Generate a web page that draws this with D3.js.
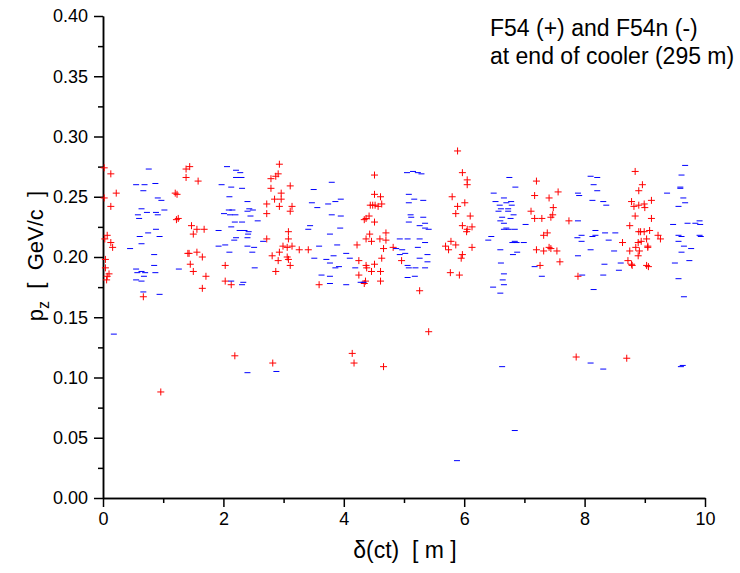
<!DOCTYPE html>
<html lang="en">
<head>
  <meta charset="UTF-8">
  <title>F54 p_z vs delta(ct)</title>
  <style>
    body {
      margin: 0;
      padding: 0;
      background: #fff;
    }
    svg {
      display: block;
      font-family: Arial, "Liberation Sans", Helvetica, sans-serif;
    }
    .axis path, .axis line {
      stroke: #000;
      stroke-width: 1.5px;
    }
    .axis text {
      font-size: 18px;
      fill: #000;
    }
    .plus {
      stroke: #ff0000;
      stroke-width: 1;
    }
    .minus {
      stroke: #0000ff;
      stroke-width: 1;
    }
  </style>
</head>
<body>
  <div id="chart"></div>
  <script src="https://d3js.org/d3.v7.min.js"></script>
  <script>
    // F54 (+) points: [delta(ct) m, pz GeV/c]
    const plusPoints = [
      [0.02,0.274],[0.13,0.269],[1.38,0.273],[1.44,0.275],[1.38,0.266],[1.58,0.263],[0.22,0.253],[0.02,0.249],
      [1.20,0.253],[1.23,0.252],[0.13,0.242],[1.25,0.232],[1.22,0.231],[1.47,0.226],[1.56,0.223],[1.68,0.223],
      [1.50,0.219],[0.07,0.218],[0.03,0.215],[0.13,0.212],[0.16,0.208],[1.41,0.203],[1.43,0.203],[1.56,0.204],
      [1.65,0.200],[0.04,0.198],[1.45,0.194],[0.04,0.191],[1.50,0.188],[1.71,0.184],[0.10,0.186],[0.07,0.184],
      [0.06,0.181],[1.65,0.174],[0.67,0.167],
      [2.93,0.277],[2.91,0.269],[2.87,0.267],[2.79,0.265],[3.11,0.259],[2.79,0.257],[2.96,0.253],[2.85,0.248],
      [2.96,0.248],[2.72,0.244],[2.93,0.242],[3.14,0.242],[3.11,0.238],[2.72,0.236],[3.08,0.221],[3.08,0.215],
      [2.72,0.215],[2.99,0.209],[3.06,0.208],[3.14,0.209],[3.26,0.206],[3.41,0.206],[2.93,0.204],[2.81,0.201],
      [3.06,0.200],[3.08,0.198],[2.91,0.197],[3.11,0.193],[2.87,0.188],[2.03,0.193],[2.03,0.180],[2.13,0.177],
      [3.59,0.177],
      [5.89,0.288],[5.97,0.270],[4.51,0.268],[4.51,0.252],[4.61,0.250],[5.80,0.250],[4.44,0.243],[4.48,0.243],
      [4.52,0.243],[4.57,0.242],[4.63,0.244],[5.89,0.242],[5.86,0.236],[4.42,0.234],[4.37,0.232],[4.34,0.231],
      [4.51,0.229],[5.97,0.226],[4.70,0.220],[4.43,0.219],[4.37,0.215],[4.46,0.213],[4.60,0.215],[4.70,0.214],
      [4.22,0.210],[4.66,0.207],[4.82,0.208],[5.78,0.213],[5.86,0.210],[5.69,0.209],[5.74,0.206],[5.97,0.202],
      [5.95,0.199],[4.63,0.199],[4.96,0.197],[4.25,0.197],[4.37,0.193],[4.51,0.194],[4.38,0.191],[4.46,0.188],
      [4.61,0.188],[4.25,0.185],[4.36,0.180],[4.34,0.178],[4.61,0.180],[5.26,0.172],[5.77,0.187],[5.92,0.185],
      [6.05,0.264],[6.05,0.260],[6.01,0.245],[6.10,0.234],[6.05,0.223],[6.13,0.225],[6.04,0.221],[6.13,0.208],
      [7.20,0.263],[7.17,0.251],[7.56,0.254],[7.41,0.249],[7.48,0.241],[7.47,0.235],[7.44,0.233],[7.11,0.238],
      [7.17,0.232],[7.29,0.232],[7.74,0.230],[7.38,0.220],[7.32,0.218],[7.20,0.206],[7.32,0.205],[7.41,0.208],
      [7.44,0.207],[7.54,0.205],[7.59,0.196],[7.26,0.193],[7.89,0.184],
      [8.84,0.271],[8.96,0.260],[8.90,0.255],[8.78,0.246],[8.82,0.242],[8.90,0.243],[8.99,0.244],[9.00,0.241],
      [9.11,0.247],[8.84,0.234],[9.11,0.232],[8.75,0.226],[8.90,0.221],[8.93,0.221],[8.99,0.221],[9.08,0.222],
      [9.22,0.218],[9.26,0.215],[9.03,0.215],[8.63,0.212],[8.89,0.212],[8.94,0.213],[9.05,0.209],[9.05,0.208],
      [8.85,0.208],[8.75,0.205],[8.91,0.205],[8.89,0.201],[8.72,0.197],[8.78,0.194],[8.79,0.193],[9.03,0.193],
      [9.06,0.192],
      [0.96,0.088],[2.19,0.118],[2.82,0.112],[4.14,0.120],[4.17,0.112],[4.66,0.109],[5.41,0.138],[7.86,0.117],
      [8.70,0.116]
    ];

    // F54n (-) points
    const minusPoints = [
      [0.76,0.273],[0.55,0.260],[0.69,0.260],[0.87,0.261],[0.67,0.255],[0.91,0.249],[0.97,0.247],[1.02,0.239],
      [0.64,0.240],[0.73,0.237],[0.88,0.237],[0.58,0.235],[0.91,0.235],[0.60,0.232],[0.88,0.223],[0.75,0.220],
      [0.61,0.217],[0.94,0.217],[0.64,0.211],[0.45,0.207],[0.85,0.202],[0.85,0.193],[1.26,0.190],[0.55,0.190],
      [0.57,0.187],[0.64,0.188],[0.70,0.187],[0.87,0.187],[0.68,0.184],[0.55,0.181],[0.64,0.180],[0.67,0.171],
      [0.94,0.169],[1.97,0.260],[1.92,0.222],[1.92,0.209],
      [2.06,0.275],[2.21,0.272],[2.28,0.270],[2.30,0.266],[2.21,0.266],[2.13,0.258],[2.31,0.257],[2.10,0.250],
      [2.40,0.246],[2.09,0.239],[2.15,0.239],[2.43,0.240],[2.49,0.239],[2.40,0.238],[2.01,0.236],[2.11,0.235],
      [2.20,0.235],[2.45,0.234],[2.57,0.230],[2.19,0.229],[2.31,0.229],[2.13,0.225],[2.27,0.222],[2.35,0.222],
      [2.42,0.221],[2.41,0.219],[2.21,0.216],[2.18,0.214],[2.40,0.216],[2.66,0.213],[2.03,0.210],[2.40,0.209],
      [2.51,0.208],[2.10,0.204],[2.48,0.204],[2.52,0.191],[2.13,0.180],[2.33,0.179],[2.31,0.177],
      [3.80,0.262],[3.50,0.256],[3.47,0.245],[3.56,0.241],[3.74,0.244],[3.86,0.246],[3.95,0.248],[3.80,0.235],
      [3.95,0.234],[3.44,0.226],[3.41,0.223],[3.94,0.224],[3.77,0.219],[3.59,0.209],[3.89,0.210],[3.51,0.199],
      [3.71,0.198],[3.83,0.201],[3.77,0.195],[3.86,0.191],[3.92,0.192],[3.63,0.185],[3.77,0.184],[3.77,0.178],
      [5.05,0.270],[5.15,0.271],[5.23,0.270],[5.29,0.269],[5.08,0.252],[5.17,0.248],[5.32,0.247],[5.08,0.245],
      [5.11,0.235],[5.12,0.233],[5.32,0.233],[5.08,0.229],[5.35,0.228],[5.26,0.226],[5.35,0.224],[5.41,0.223],
      [4.93,0.215],[5.06,0.215],[5.26,0.215],[5.35,0.212],[5.23,0.208],[4.87,0.207],[4.97,0.206],[4.93,0.202],
      [5.02,0.203],[4.04,0.203],[5.39,0.202],[4.10,0.199],[5.26,0.199],[5.39,0.196],[5.06,0.193],[5.08,0.191],
      [5.19,0.191],[5.35,0.191],[4.19,0.191],[5.06,0.183],[5.18,0.184],[4.04,0.177],[4.28,0.179],[4.33,0.179],
      [6.75,0.266],[6.85,0.258],[6.49,0.253],[6.66,0.249],[6.52,0.246],[6.59,0.243],[6.70,0.245],[6.78,0.246],
      [6.79,0.243],[6.61,0.240],[6.73,0.240],[6.57,0.238],[6.73,0.238],[6.82,0.235],[6.63,0.233],[6.77,0.232],
      [6.60,0.230],[6.66,0.228],[6.70,0.224],[6.66,0.223],[6.74,0.223],[6.84,0.223],[7.02,0.227],[6.45,0.217],
      [6.40,0.214],[6.84,0.213],[6.87,0.212],[6.80,0.212],[6.99,0.212],[6.60,0.206],[6.88,0.204],[6.81,0.202],
      [6.61,0.195],[7.17,0.192],[6.66,0.186],[7.29,0.184],[6.64,0.181],[6.66,0.177],[6.48,0.175],[6.60,0.170],
      [7.89,0.253],[7.91,0.251],[7.89,0.230],[7.95,0.218],[7.88,0.216],[7.95,0.213],[7.89,0.201],[7.96,0.185],
      [8.10,0.267],[8.21,0.266],[8.15,0.260],[8.21,0.255],[8.13,0.247],[8.31,0.246],[8.36,0.243],[8.18,0.222],
      [8.34,0.220],[8.51,0.220],[8.18,0.218],[8.13,0.217],[8.40,0.214],[8.10,0.206],[8.49,0.205],[8.33,0.194],
      [8.60,0.195],[8.57,0.189],[8.31,0.185],[8.15,0.173],
      [9.67,0.276],[9.61,0.268],[9.59,0.258],[9.59,0.257],[9.37,0.253],[9.64,0.249],[9.67,0.245],[9.56,0.242],
      [9.47,0.227],[9.71,0.228],[9.84,0.228],[9.91,0.230],[9.92,0.227],[9.56,0.218],[9.61,0.217],[9.91,0.218],
      [9.93,0.217],[9.56,0.213],[9.65,0.209],[9.77,0.207],[9.61,0.204],[9.74,0.197],[9.50,0.195],[9.56,0.182],
      [9.65,0.167],
      [0.18,0.136],[2.40,0.104],[2.88,0.105],[5.88,0.031],[6.63,0.109],[6.84,0.056],[8.10,0.112],[8.31,0.107],
      [9.60,0.109],[9.63,0.110]
    ];

    const xTicks = [0, 2, 4, 6, 8, 10];
    const xMinorTicks = [1, 3, 5, 7, 9];
    const yTicks = [0, 0.05, 0.10, 0.15, 0.20, 0.25, 0.30, 0.35, 0.40];
    const yMinorTicks = [0.025, 0.075, 0.125, 0.175, 0.225, 0.275, 0.325, 0.375];
    const noteLines = ["F54 (+) and F54n (-)", "at end of cooler (295 m)"];

    const width = 740;
    const height = 573;
    const margin = { top: 16, right: 35, bottom: 75, left: 103 };

    const svg = d3.select("#chart")
      .append("svg")
      .attr("width", width)
      .attr("height", height);

    svg.append("rect")
      .attr("width", width)
      .attr("height", height)
      .attr("fill", "#fff");

    const x = d3.scaleLinear().domain([0, 10]).range([margin.left, width - margin.right]);
    const y = d3.scaleLinear().domain([0, 0.4]).range([height - margin.bottom, margin.top]);

    // Axes (major with labels, minor without)
    svg.append("g")
      .attr("class", "axis")
      .attr("transform", `translate(0,${y(0)})`)
      .call(d3.axisBottom(x).tickValues(xMinorTicks).tickSize(5).tickSizeOuter(0).tickFormat(""));

    svg.append("g")
      .attr("class", "axis")
      .attr("transform", `translate(0,${y(0)})`)
      .call(d3.axisBottom(x).tickValues(xTicks).tickSize(9).tickSizeOuter(0).tickPadding(5).tickFormat(d3.format("d")));

    svg.append("g")
      .attr("class", "axis")
      .attr("transform", `translate(${x(0)},0)`)
      .call(d3.axisLeft(y).tickValues(yMinorTicks).tickSize(5).tickSizeOuter(0).tickFormat(""));

    svg.append("g")
      .attr("class", "axis")
      .attr("transform", `translate(${x(0)},0)`)
      .call(d3.axisLeft(y).tickValues(yTicks).tickSize(9).tickSizeOuter(0).tickPadding(6).tickFormat(d3.format(".2f")));

    // Markers
    const h = 3.5;
    const plus = svg.append("g").selectAll("g")
      .data(plusPoints)
      .enter()
      .append("g")
      .attr("class", "plus")
      .attr("transform", d => `translate(${x(d[0])},${y(d[1])})`);
    plus.append("line").attr("x1", -h).attr("x2", h);
    plus.append("line").attr("y1", -h).attr("y2", h);

    svg.append("g").selectAll("line")
      .data(minusPoints)
      .enter()
      .append("line")
      .attr("class", "minus")
      .attr("x1", d => x(d[0]) - 3)
      .attr("x2", d => x(d[0]) + 3)
      .attr("y1", d => y(d[1]))
      .attr("y2", d => y(d[1]));

    // Axis titles
    svg.append("text")
      .attr("x", (x(0) + x(10)) / 2 + 1)
      .attr("y", 558)
      .attr("text-anchor", "middle")
      .style("font-size", "23px")
      .style("white-space", "pre")
      .text("δ(ct)  [ m ]");

    const yt = svg.append("text")
      .attr("transform", `translate(43,${y(0.2) - 1}) rotate(-90)`)
      .attr("text-anchor", "middle")
      .style("font-size", "22px")
      .style("white-space", "pre");
    yt.append("tspan").text("p");
    yt.append("tspan").attr("dy", 6).style("font-size", "16px").text("z");
    yt.append("tspan").attr("dy", -6).text("  [  GeV/c  ]");

    // Annotation
    svg.append("g").selectAll("text")
      .data(noteLines)
      .enter()
      .append("text")
      .attr("x", 490)
      .attr("y", (d, i) => 36 + i * 28)
      .style("font-size", "23px")
      .text(d => d);
  </script>
</body>
</html>
